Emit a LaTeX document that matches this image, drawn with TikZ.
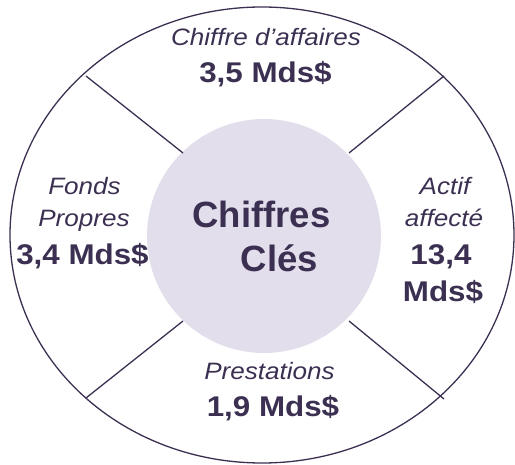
\documentclass[tikz,border=0pt]{standalone}
\usepackage{fontspec}
\setmainfont{Liberation Sans}
\usepackage{graphicx}
\definecolor{ink}{HTML}{3C3052}
\definecolor{lilac}{HTML}{E3DEEB}
\newcommand{\wide}[1]{\scalebox{1.1}[1]{#1}}
\begin{document}
\begin{tikzpicture}[x=1pt,y=-1pt,
  lab/.style={font=\fontsize{23.7}{28}\selectfont\itshape, text=ink, inner sep=0pt, anchor=base},
  val/.style={font=\fontsize{28.5}{34}\selectfont\bfseries, text=ink, inner sep=0pt, anchor=base},
  hub/.style={font=\fontsize{36.5}{44}\selectfont\bfseries, text=ink, inner sep=0pt, anchor=base},
  rim/.style={draw=ink, line width=1.3pt},
  spoke/.style={draw=ink, line width=1.3pt}]
\useasboundingbox (0,0) rectangle (515,465);

% outer ring and central disc
\draw[rim] (262,235) ellipse [x radius=252, y radius=228];
\node[circle, fill=lilac, minimum size=234pt, inner sep=0pt] (core) at (264,236) {};

% spokes between the four sectors
\coordinate (ulo) at (86,76);   \coordinate (uli) at (183,153);
\coordinate (uro) at (444,76);  \coordinate (uri) at (349,153);
\coordinate (llo) at (86,398);  \coordinate (lli) at (183,321);
\coordinate (lro) at (444,399); \coordinate (lri) at (349,321);
\draw[spoke] (ulo) -- (uli);
\draw[spoke] (uro) -- (uri);
\draw[spoke] (llo) -- (lli);
\draw[spoke] (lro) -- (lri);

% centre title
\node[hub] (t1) at (261.5,228) {Chiffres};
\node[hub] (t2) at (279.5,272) {Clés};

% top sector
\node[lab] (ca) at (266,46) {\wide{Chiffre d’affaires}};
\node[val] (cav) at (265.5,83) {\wide{3,5 Mds\$}};

% left sector
\node[lab] (fp1) at (84.5,195) {\wide{Fonds}};
\node[lab] (fp2) at (84,227) {\wide{Propres}};
\node[val] (fpv) at (82.5,265) {\wide{3,4 Mds\$}};

% right sector
\node[lab] (aa1) at (445,195) {\wide{Actif}};
\node[lab] (aa2) at (444,227) {\wide{affecté}};
\node[val] (aav1) at (441,265) {\wide{13,4}};
\node[val] (aav2) at (443,302) {\wide{Mds\$}};

% bottom sector
\node[lab] (pr) at (269.5,380) {\wide{Prestations}};
\node[val] (prv) at (273,417) {\wide{1,9 Mds\$}};
\end{tikzpicture}
\end{document}
